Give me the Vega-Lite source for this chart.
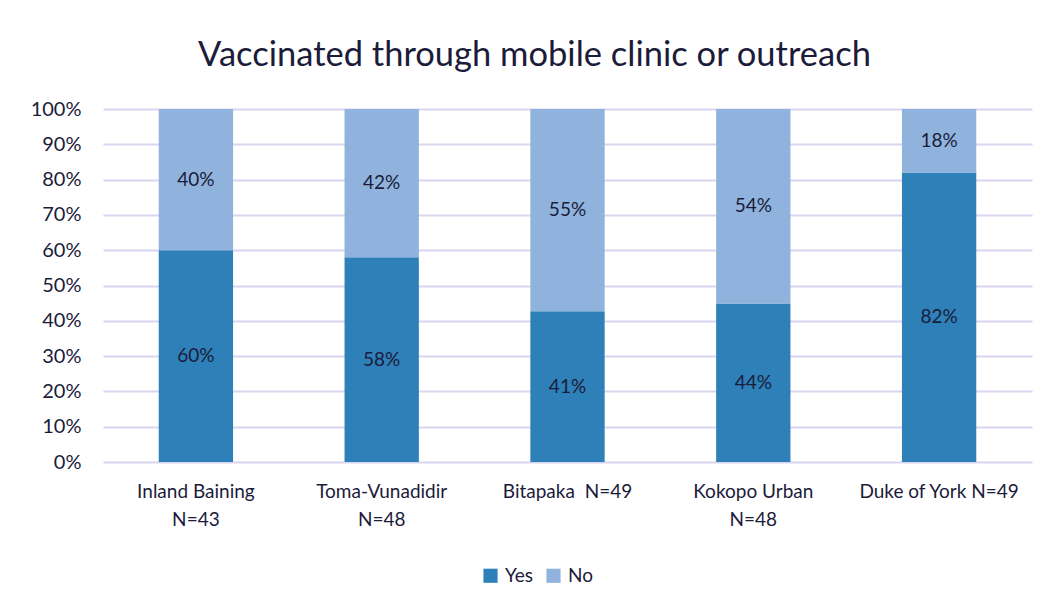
{
  "$schema": "https://vega.github.io/schema/vega-lite/v6.json",
  "autosize": "none",
  "width": 929,
  "height": 353,
  "padding": {"left": 103, "top": 109, "right": 13, "bottom": 146},
  "background": "white",
  "config": {"view": {"stroke": null}},
  "title": {
    "text": "Vaccinated through mobile clinic or outreach",
    "fontSize": 34.5,
    "font": "Lato",
    "fontWeight": "normal",
    "color": "#1b1b3a",
    "anchor": "middle",
    "frame": "group",
    "dx": -33,
    "offset": 26
  },
  "data": {
    "values": [
      {"site": "Inland Baining|N=43", "resp": "Yes", "pct": 60},
      {"site": "Inland Baining|N=43", "resp": "No", "pct": 40},
      {"site": "Toma-Vunadidir|N=48", "resp": "Yes", "pct": 58},
      {"site": "Toma-Vunadidir|N=48", "resp": "No", "pct": 42},
      {"site": "Bitapaka\u00a0 N=49", "resp": "Yes", "pct": 41},
      {"site": "Bitapaka\u00a0 N=49", "resp": "No", "pct": 55},
      {"site": "Kokopo Urban|N=48", "resp": "Yes", "pct": 44},
      {"site": "Kokopo Urban|N=48", "resp": "No", "pct": 54},
      {"site": "Duke of York N=49", "resp": "Yes", "pct": 82},
      {"site": "Duke of York N=49", "resp": "No", "pct": 18}
    ]
  },
  "transform": [
    {"stack": "pct", "groupby": ["site"], "offset": "normalize", "sort": [{"field": "resp", "order": "descending"}], "as": ["y0", "y1"]},
    {"calculate": "(datum.y0 + datum.y1) / 2", "as": "ymid"},
    {"calculate": "datum.pct + '%'", "as": "lbl"}
  ],
  "encoding": {
    "x": {
      "field": "site",
      "type": "nominal",
      "sort": null,
      "scale": {"paddingInner": 0.6, "paddingOuter": 0.3},
      "axis": {
        "title": null,
        "labelAngle": 0,
        "labelExpr": "split(datum.value, '|')",
        "labelFont": "Lato",
        "labelFontSize": 19,
        "labelColor": "#1b1b3a",
        "labelPadding": 20,
        "labelLineHeight": 28,
        "ticks": false,
        "domain": false
      }
    }
  },
  "layer": [
    {
      "mark": {"type": "bar"},
      "encoding": {
        "y": {
          "field": "y0",
          "type": "quantitative",
          "scale": {"domain": [0, 1]},
          "axis": {
            "title": null,
            "format": ".0%",
            "values": [0, 0.1, 0.2, 0.3, 0.4, 0.5, 0.6, 0.7, 0.8, 0.9, 1],
            "labelOverlap": false,
            "labelFont": "Lato",
            "labelFontSize": 20,
            "labelColor": "#1b1b3a",
            "labelPadding": 22,
            "ticks": false,
            "domain": false,
            "grid": true,
            "gridColor": "#d9d5f0",
            "gridWidth": 2
          }
        },
        "y2": {"field": "y1"},
        "color": {
          "field": "resp",
          "type": "nominal",
          "scale": {"domain": ["Yes", "No"], "range": ["#2e80b8", "#8fb3dc"]},
          "legend": {
            "title": null,
            "orient": "none",
            "direction": "horizontal",
            "legendX": 378,
            "legendY": 457,
            "symbolType": "square",
            "symbolSize": 200,
            "symbolStrokeWidth": 0,
            "labelFont": "Lato",
            "labelFontSize": 19,
            "labelColor": "#1b1b3a",
            "columnPadding": 10,
            "labelOffset": 5
          }
        }
      }
    },
    {
      "mark": {"type": "text", "font": "Lato", "fontSize": 19, "color": "#1b1b3a"},
      "encoding": {
        "y": {
          "field": "ymid",
          "type": "quantitative",
          "axis": {
            "title": null,
            "format": ".0%",
            "values": [0, 0.1, 0.2, 0.3, 0.4, 0.5, 0.6, 0.7, 0.8, 0.9, 1],
            "labelOverlap": false,
            "labelFont": "Lato",
            "labelFontSize": 20,
            "labelColor": "#1b1b3a",
            "labelPadding": 22,
            "ticks": false,
            "domain": false,
            "grid": true,
            "gridColor": "#d9d5f0",
            "gridWidth": 2
          }
        },
        "text": {"field": "lbl", "type": "nominal"}
      }
    }
  ]
}
